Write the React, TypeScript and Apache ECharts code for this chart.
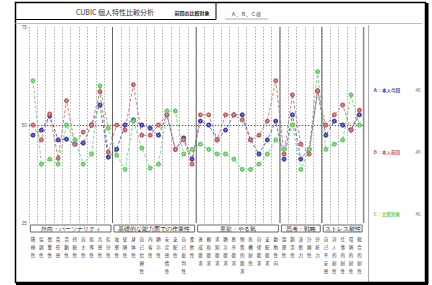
import React, { useEffect, useRef } from "react";
import * as echarts from "echarts";

const categories = [
  "積極性", "協調性", "慎重性", "責任感", "活動性", "持続性", "自主性", "指導性", "共感性", "気分性",
  "攻撃性", "従順性", "身体性", "自己信頼性", "内省性", "顕示性", "安定感情性", "支配性", "自己批判性", "柔軟性",
  "達成欲求", "親和欲求", "求知欲求", "顕示欲求", "秩序欲求", "物質的欲求", "危機耐性", "自律欲求", "支配欲求", "勤勉性向",
  "論理性", "創造性", "決断力", "計画性", "分析力",
  "自己不安感", "対人的耐性", "仕事的耐性", "環境的耐性", "総合的耐性",
];
const groupNames = ["外向・パーソナリティ", "基礎的な能力面での作業性", "意欲・やる気", "思考・戦略", "ストレス耐性"];
const groupSizes = [10, 10, 10, 5, 5];

const seriesNames = ["Ａ：本人今回", "Ｂ：本人前回", "Ｃ：比較対象"];
const seriesTotals = ["48", "49", "45"];

const blueValues = [
  47.4, 48.7, 52.3, 46.2, 46.4, 45.1, 45.4, 50, 55.1, 41.8,
  43.8, 50, 51.3, 50, 49.2, 47.4, 52.6, 43.8, 46.7, 41.3,
  51.0, 50, 46.2, 48.7, 52.6, 52.6, 46.2, 42.6, 46.2, 51.0,
  41.3, 52.6, 41.3, 43.8, 58.7,
  47.4, 51.0, 50, 48.7, 52.6,
];
const redValues = [
  50, 46.2, 52.8, 41.5, 56.2, 45.1, 48.2, 50, 58.5, 43.1,
  50, 48.7, 60.3, 47.4, 47.4, 50, 52.6, 43.8, 46.2, 40.0,
  52.6, 52.6, 46.2, 52.6, 52.6, 51.3, 46.2, 47.4, 51.0, 61.3,
  42.6, 57.7, 45.1, 42.6, 58.7,
  50, 52.6, 55.1, 48.7, 53.8,
];
const greenValues = [
  61.3, 40.0, 41.3, 40.0, 50, 46.2, 40.0, 42.6, 60.0, 49.2,
  42.3, 38.7, 51.0, 44.1, 39.0, 40.0, 53.6, 53.6, 42.6, 43.8,
  45.1, 43.8, 42.6, 42.6, 41.3, 38.7, 38.7, 40.0, 42.6, 46.2,
  43.8, 50, 38.7, 43.8, 63.6,
  43.8, 45.1, 46.2, 57.7, 50,
];

const yTicks = { min: 25, max: 75, interval: 25 };

const colors = ["#4040b0", "#c86060", "#62d062"];
const JP = '"Noto Sans CJK JP", "Noto Sans", sans-serif';

export default function App() {
  const ref = useRef<HTMLDivElement>(null);
  useEffect(() => {
    document.body.style.margin = "0";
    const chart = echarts.init(ref.current!, null, { renderer: "svg" });
    const mk = (name: string, data: number[], color: string) => ({
      name,
      type: "line",
      data,
      symbol: "emptyCircle",
      symbolSize: 3,
      itemStyle: { color, borderWidth: 0.7 },
      lineStyle: { color, width: 0.8, type: [3, 2] },
      z: 5,
    });
    chart.setOption({
      animation: false,
      grid: { left: 28.8, top: 27, width: 334.8, height: 196, outerBoundsMode: "none", containLabel: false },
      xAxis: {
        type: "category",
        data: categories,
        boundaryGap: true,
        axisLine: { show: false },
        axisTick: { show: false },
        axisLabel: {
          interval: 0,
          fontSize: 4.5,
          lineHeight: 8,
          margin: 12,
          color: "#333",
          fontFamily: JP,
          verticalAlign: "top",
          formatter: (v: string) => v.split("").join("\n"),
        },
        splitLine: { show: true, interval: 0, lineStyle: { color: "#999", width: 0.8, type: [1.5, 1.5] } },
      },
      yAxis: {
        type: "value",
        min: yTicks.min,
        max: yTicks.max,
        interval: yTicks.interval,
        axisLine: { show: false },
        axisTick: { show: false },
        splitLine: { show: false },
        axisLabel: { fontSize: 4.5, color: "#555", margin: 2 },
      },
      series: [
        {
          ...mk(seriesNames[0], blueValues, colors[0]),
          markLine: {
            silent: true,
            symbol: "none",
            label: { show: false },
            lineStyle: { color: "#333", width: 0.8, type: [1.5, 1.5] },
            data: [{ yAxis: 50 }],
          },
        },
        mk(seriesNames[1], redValues, colors[1]),
        mk(seriesNames[2], greenValues, colors[2]),
      ],
    });

    const px = (i: number) => chart.convertToPixel({ xAxisIndex: 0 }, i) as number;
    const half = (px(1) - px(0)) / 2;
    const gTop = chart.convertToPixel({ yAxisIndex: 0 }, yTicks.max) as number;
    const gBottom = chart.convertToPixel({ yAxisIndex: 0 }, yTicks.min) as number;
    const elements: any[] = [];
    let start = 0;
    groupSizes.forEach((n, gi) => {
      const x0 = px(start) - half + 1.5;
      const x1 = px(start + n - 1) + half - 1.5;
      elements.push({
        type: "rect",
        shape: { x: x0, y: gBottom + 2, width: x1 - x0, height: 7 },
        style: { fill: "#fff", stroke: "#444", lineWidth: 0.8 },
      });
      elements.push({
        type: "text",
        x: (x0 + x1) / 2,
        y: gBottom + 5.5,
        style: { text: groupNames[gi], fontSize: 5.5, fill: "#222", font: `bold 5.5px ${JP}`, align: "center", verticalAlign: "middle" },
      });
      if (gi > 0) {
        const bx = px(start) - half;
        elements.push({ type: "line", shape: { x1: bx, y1: gTop, x2: bx, y2: gBottom }, style: { stroke: "#666", lineWidth: 1 } });
      }
      start += n;
    });
    const rightX = px(categories.length - 1) + half;
    elements.push({ type: "line", shape: { x1: rightX, y1: gTop, x2: rightX, y2: gBottom }, style: { stroke: "#888", lineWidth: 1.5 } });
    elements.push({ type: "line", shape: { x1: rightX + 5, y1: 25, x2: rightX + 5, y2: 283 }, style: { stroke: "#aaa", lineWidth: 1 } });

    elements.push({ type: "rect", shape: { x: 15.5, y: 2.5, width: 410, height: 280 }, style: { fill: "none", stroke: "#000", lineWidth: 1.5 } });
    elements.push({ type: "line", shape: { x1: 427, y1: 3, x2: 427, y2: 284 }, style: { stroke: "#000", lineWidth: 3 } });
    elements.push({ type: "line", shape: { x1: 16, y1: 284, x2: 428, y2: 284 }, style: { stroke: "#000", lineWidth: 2.5 } });
    elements.push({ type: "line", shape: { x1: 15.5, y1: 19.5, x2: 216, y2: 19.5 }, style: { stroke: "#000", lineWidth: 1 } });
    elements.push({ type: "line", shape: { x1: 216, y1: 2.5, x2: 216, y2: 19.5 }, style: { stroke: "#000", lineWidth: 1 } });
    elements.push({ type: "line", shape: { x1: 15.5, y1: 23.5, x2: 422, y2: 23.5 }, style: { stroke: "#bbb", lineWidth: 1 } });
    elements.push({ type: "line", shape: { x1: 225, y1: 19, x2: 268, y2: 19 }, style: { stroke: "#999", lineWidth: 0.8 } });
    elements.push({
      type: "text", x: 115, y: 12,
      style: { text: "CUBIC 個人特性比較分析", font: `7px ${JP}`, fill: "#333", align: "center", verticalAlign: "middle" },
    });
    elements.push({
      type: "text", x: 192, y: 12,
      style: { text: "前回の比較対象", font: `bold 5px ${JP}`, fill: "#222", align: "center", verticalAlign: "middle" },
    });
    elements.push({
      type: "text", x: 246, y: 13,
      style: { text: "Ａ．Ｂ．Ｃ様", font: `5px ${JP}`, fill: "#444", align: "center", verticalAlign: "middle" },
    });
    const legendY = [90, 152, 214];
    seriesNames.forEach((nm, i) => {
      elements.push({
        type: "text", x: 373, y: legendY[i],
        style: { text: nm, font: `bold 4.5px ${JP}`, fill: colors[i], align: "left", verticalAlign: "middle" },
      });
      elements.push({
        type: "text", x: 418, y: legendY[i],
        style: { text: seriesTotals[i], font: `4.5px ${JP}`, fill: "#555", align: "center", verticalAlign: "middle" },
      });
    });
    chart.setOption({ graphic: { elements } });
    return () => chart.dispose();
  }, []);
  return <div ref={ref} style={{ width: 432, height: 285 }} />;
}
